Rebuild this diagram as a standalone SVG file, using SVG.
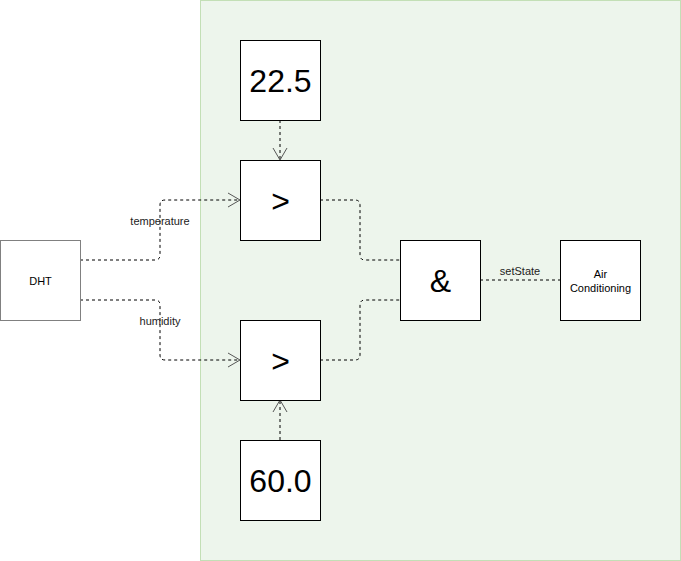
<svg xmlns="http://www.w3.org/2000/svg" width="681" height="561" viewBox="0 0 681 561">
<style>
.box{fill:#ffffff;stroke:#000000;stroke-width:1}
.big{font-family:"Liberation Sans",Arial,sans-serif;font-size:32px;fill:#000;text-anchor:middle}
.sm{font-family:"Liberation Sans",Arial,sans-serif;font-size:11px;fill:#000;text-anchor:middle}
.lbl{font-family:"Liberation Sans",Arial,sans-serif;font-size:11px;fill:#222;text-anchor:middle}
.edge{fill:none;stroke:#000;stroke-width:1;stroke-dasharray:3 3}
</style>
<defs>
<marker id="open" viewBox="0 0 14 16" refX="13" refY="8" markerWidth="14" markerHeight="16" markerUnits="userSpaceOnUse" orient="auto">
<path d="M1 1 L13 8 L1 15" fill="none" stroke="#555" stroke-width="1"/>
</marker>
</defs>
<g id="container">
<rect x="200.5" y="0.5" width="480" height="560" fill="#edf5ec" stroke="#c3dfb6" stroke-width="1"/>
</g>
<g id="connectors">
<path class="edge" d="M80 260 H155 Q160 260 160 255 V205 Q160 200 165 200 H240" marker-end="url(#open)"/>
<path class="edge" d="M80 300 H155 Q160 300 160 305 V355 Q160 360 165 360 H240" marker-end="url(#open)"/>
<path class="edge" d="M280 120 V160" marker-end="url(#open)"/>
<path class="edge" d="M280 440 V400" marker-end="url(#open)"/>
<path class="edge" d="M320 200 H355 Q360 200 360 205 V255 Q360 260 365 260 H400"/>
<path class="edge" d="M320 360 H355 Q360 360 360 355 V305 Q360 300 365 300 H400"/>
<path class="edge" d="M480 280 H560"/>
<text class="lbl" x="160" y="225">temperature</text>
<text class="lbl" x="160" y="325">humidity</text>
<text class="lbl" x="520" y="275">setState</text>
</g>
<g id="dht">
<rect x="0.5" y="240.5" width="80" height="80" fill="#fff" stroke="#808080"/>
<text class="sm" x="40.5" y="284.5">DHT</text>
</g>
<g id="v225">
<rect class="box" x="240.5" y="40.5" width="80" height="80"/>
<text class="big" x="280.5" y="92">22.5</text>
</g>
<g id="gt1">
<rect class="box" x="240.5" y="160.5" width="80" height="80"/>
<text class="big" x="280.5" y="212">&gt;</text>
</g>
<g id="gt2">
<rect class="box" x="240.5" y="320.5" width="80" height="80"/>
<text class="big" x="280.5" y="372">&gt;</text>
</g>
<g id="v600">
<rect class="box" x="240.5" y="440.5" width="80" height="80"/>
<text class="big" x="280.5" y="492">60.0</text>
</g>
<g id="and">
<rect class="box" x="400.5" y="240.5" width="80" height="80"/>
<text class="big" x="440.5" y="292">&amp;</text>
</g>
<g id="ac">
<rect class="box" x="560.5" y="240.5" width="80" height="80"/>
<text class="sm" x="600.5" y="278">Air</text>
<text class="sm" x="600.5" y="292">Conditioning</text>
</g>
</svg>
